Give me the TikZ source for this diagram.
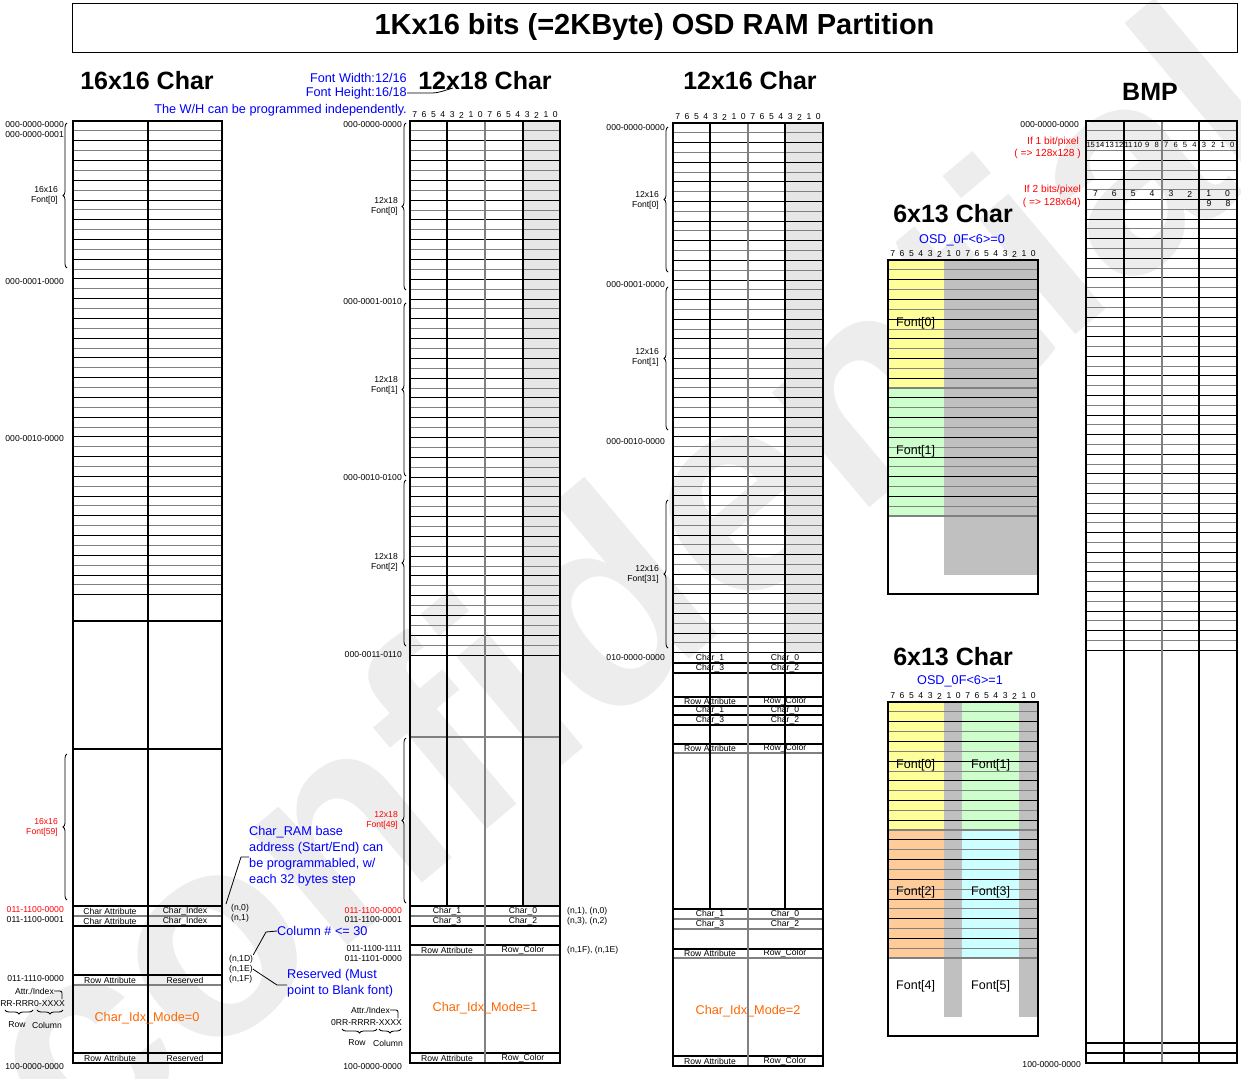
\documentclass[tikz,border=0pt]{standalone}
\usepackage{fontspec}
\setmainfont{Liberation Sans}
\usetikzlibrary{decorations.pathreplacing}

\definecolor{noteblue}{RGB}{0,0,255}
\definecolor{notered}{RGB}{255,0,0}
\definecolor{modeorange}{RGB}{255,102,0}
\definecolor{fontyellow}{RGB}{255,255,153}
\definecolor{fontgreen}{RGB}{204,255,204}
\definecolor{fontorange}{RGB}{255,204,153}
\definecolor{fontcyan}{RGB}{204,255,255}
\definecolor{unusedgray}{RGB}{192,192,192}
\definecolor{padgray}{RGB}{230,230,230}
\definecolor{linegray}{RGB}{128,128,128}

% row lines of a RAM table: left, right, top, pitch, count
\newcommand{\ramrows}[5]{%
  \foreach \k in {1,...,#5}{%
    \ifodd\k\relax \def\rowcol{linegray}\else \def\rowcol{black}\fi
    \draw[\rowcol, line width=0.9pt] (#1,{#3+\k*#4}) -- (#2,{#3+\k*#4});
  }}
% bit numbers 7..0 7..0 over a table: left, right, y, name prefix
\newcommand{\bitrow}[4]{%
  \foreach \i in {0,...,15}{%
    \pgfmathtruncatemacro\bitno{7-mod(\i,8)}%
    \node[bitlbl] (#4\i) at ({#1+(\i+0.5)*(#2-#1)/16},#3) {\bitno};
  }}

\begin{document}
\begin{tikzpicture}[x=1pt, y=-1pt,
  lbl/.style={font=\fontsize{8.6}{10}\selectfont, inner sep=0pt},
  redlbl/.style={lbl, text=notered},
  bitlbl/.style={font=\fontsize{8.6}{10}\selectfont, inner sep=0pt},
  heading/.style={font=\fontsize{25}{28}\bfseries\selectfont, inner sep=0pt},
  bluenote/.style={font=\fontsize{12.7}{16}\selectfont, text=noteblue, inner sep=0pt, align=left},
  rednote/.style={font=\fontsize{10.2}{12}\selectfont, text=notered, inner sep=0pt},
  modetxt/.style={font=\fontsize{12.7}{14}\selectfont, text=modeorange, inner sep=0pt},
  fonttxt/.style={font=\fontsize{12.5}{14}\selectfont, inner sep=0pt},
  border/.style={line width=1.6pt},
  divider/.style={line width=1.1pt},
  softdiv/.style={line width=1.1pt, linegray},
  fontbrace/.style={decorate, decoration={brace, amplitude=4pt}, line width=0.8pt},
  fieldbrace/.style={decorate, decoration={brace, mirror, amplitude=4pt}, line width=0.8pt},
  leader/.style={line width=0.8pt}]

\useasboundingbox (0,0) rectangle (1241,1078);
\fill[white] (0,0) rectangle (1241,1078);

% watermark
\node[rotate=40, text=black!7, font=\fontsize{285}{285}\bfseries\selectfont] (wmark) at (625,580) {confidential};

% title
\node[draw, line width=0.8pt, minimum width=1165, minimum height=49,
      font=\fontsize{29}{32}\bfseries\selectfont] (ttl) at (654.5,27.5) {1Kx16 bits (=2KByte) OSD RAM Partition};

%% 16x16 Char
\node[heading] (h1616) at (147,81) {16x16 Char};
\ramrows{73}{222}{121}{9.87}{48}
\draw[divider] (73,621) -- (222,621);
\draw[border] (73,749) -- (222,749);
\foreach \yy in {906,926,975,1053} \draw[divider] (73,\yy) -- (222,\yy);
\foreach \yy in {916,985} \draw[softdiv] (73,\yy) -- (222,\yy);
\draw[divider] (148,121) -- (148,1063);
\draw[border] (73,121) rectangle (222,1063);

\node[lbl] (ca1) at (110,911) {Char Attribute};
\node[lbl] (ci1) at (185,911) {Char\_Index};
\node[lbl] (ca2) at (110,921) {Char Attribute};
\node[lbl] (ci2) at (185,921) {Char\_Index};
\node[lbl] (ra1) at (110,980) {Row Attribute};
\node[lbl] (rs1) at (185,980) {Reserved};
\node[lbl] (ra2) at (110,1058) {Row Attribute};
\node[lbl] (rs2) at (185,1058) {Reserved};
\node[modetxt] (mode0) at (147,1018) {Char\_Idx\_Mode=0};

\node[lbl, anchor=east] (ad1) at (64,125) {000-0000-0000};
\node[lbl, anchor=east] (ad2) at (64,135) {000-0000-0001};
\node[lbl, anchor=east] (ad3) at (64,282) {000-0001-0000};
\node[lbl, anchor=east] (ad4) at (64,439) {000-0010-0000};
\node[redlbl, anchor=east] (ad5) at (64,910) {011-1100-0000};
\node[lbl, anchor=east] (ad6) at (64,920) {011-1100-0001};
\node[lbl, anchor=east] (ad7) at (64,979) {011-1110-0000};
\node[lbl, anchor=east] (ad8) at (64,1067) {100-0000-0000};

\draw[fontbrace] (67,268) -- (67,123);
\node[lbl, align=right, anchor=east] (fa0) at (58,195) {16x16\\Font[0]};
\draw[fontbrace] (67,900) -- (67,754);
\node[redlbl, align=right, anchor=east] (fa59) at (58,827) {16x16\\Font[59]};

\node[lbl, anchor=east] (attr1) at (54,991) {Attr./Index};
\coordinate (hook1) at (62,999);
\draw[leader, rounded corners=2pt] (attr1.east) -| (hook1);
\node[lbl, anchor=east] (fld1) at (65,1004) {0RR-RRR0-XXXX};
\draw[fieldbrace] (5,1010) -- (33,1010);
\draw[fieldbrace] (37,1010) -- (63,1010);
\node[lbl] (row1) at (17,1025) {Row};
\node[lbl] (col1) at (47,1025) {Column};

\node[lbl, anchor=west] (n0) at (231,908) {(n,0)};
\node[lbl, anchor=west] (n1) at (231,918) {(n,1)};
\node[lbl, anchor=west] (n1d) at (229,959) {(n,1D)};
\node[lbl, anchor=west] (n1e) at (229,969) {(n,1E)};
\node[lbl, anchor=west] (n1f) at (229,979) {(n,1F)};

\node[bluenote, anchor=north west] (ramnote) at (249,826) {Char\_RAM base\\address (Start/End) can\\be programmabled, w/\\each 32 bytes step};
\coordinate (ramfoot) at (226,904);
\coordinate (ramkink) at (241,857);
\draw[leader] (ramfoot) -- (ramkink) -- (ramkink -| ramnote.west);
\node[bluenote, anchor=west] (colnote) at (277,931) {Column \# <= 30};
\coordinate (colkink) at (266,932);
\draw[leader] (n1d.north east) -- (colkink) -- (colnote.west);
\node[bluenote, anchor=north west] (resnote) at (287,969) {Reserved (Must\\point to Blank font)};
\coordinate (reskink) at (277,985);
\draw[leader] (n1e.east) -- (reskink) -- (reskink -| resnote.west);

%% 12x18 Char
\node[heading] (h1218) at (485,81) {12x18 Char};
\node[bluenote, anchor=east] (fw) at (407,78) {Font Width:12/16};
\node[bluenote, anchor=east] (fh) at (407,93) {Font Height:16/18};
\node[bluenote, anchor=east] (wh) at (407,110) {The W/H can be programmed independently.};
\coordinate (fhend) at (453,88);
\draw[leader] (fh.east) -- ++(24,0) to[out=0, in=195] (fhend);

\fill[padgray] (523,121) rectangle (560,906);
\bitrow{410}{560}{115}{bt-}
\ramrows{410}{560}{121}{9.89}{54}
\draw[softdiv] (410,737) -- (560,737);
\foreach \yy in {906,926,945,1053} \draw[divider] (410,\yy) -- (560,\yy);
\foreach \yy in {916,955} \draw[softdiv] (410,\yy) -- (560,\yy);
\draw[divider] (447,121) -- (447,906);
\draw[divider] (523,121) -- (523,906);
\draw[softdiv] (485,121) -- (485,1063);
\draw[border] (410,121) rectangle (560,1063);

\node[lbl] (tc1) at (447,911) {Char\_1};
\node[lbl] (tc0) at (523,911) {Char\_0};
\node[lbl] (tc3) at (447,921) {Char\_3};
\node[lbl] (tc2) at (523,921) {Char\_2};
\node[lbl] (tra1) at (447,950) {Row Attribute};
\node[lbl] (trc1) at (523,950) {Row\_Color};
\node[lbl] (tra2) at (447,1058) {Row Attribute};
\node[lbl] (trc2) at (523,1058) {Row\_Color};
\node[modetxt] (mode1) at (485,1008) {Char\_Idx\_Mode=1};

\node[lbl, anchor=west] (tn10) at (567,911) {(n,1), (n,0)};
\node[lbl, anchor=west] (tn32) at (567,921) {(n,3), (n,2)};
\node[lbl, anchor=west] (tn1f) at (567,950) {(n,1F), (n,1E)};

\node[lbl, anchor=east] (tad1) at (402,125) {000-0000-0000};
\node[lbl, anchor=east] (tad2) at (402,302) {000-0001-0010};
\node[lbl, anchor=east] (tad3) at (402,478) {000-0010-0100};
\node[lbl, anchor=east] (tad4) at (402,655) {000-0011-0110};
\node[redlbl, anchor=east] (tad5) at (402,911) {011-1100-0000};
\node[lbl, anchor=east] (tad6) at (402,920) {011-1100-0001};
\node[lbl, anchor=east] (tad7) at (402,949) {011-1100-1111};
\node[lbl, anchor=east] (tad8) at (402,959) {011-1101-0000};
\node[lbl, anchor=east] (tad9) at (402,1067) {100-0000-0000};

\draw[fontbrace] (406,290) -- (406,123);
\node[lbl, align=right, anchor=east] (tf0) at (398,206) {12x18\\Font[0]};
\draw[fontbrace] (406,476) -- (406,303);
\node[lbl, align=right, anchor=east] (tf1) at (398,385) {12x18\\Font[1]};
\draw[fontbrace] (406,646) -- (406,480);
\node[lbl, align=right, anchor=east] (tf2) at (398,562) {12x18\\Font[2]};
\draw[fontbrace] (406,903) -- (406,738);
\node[redlbl, align=right, anchor=east] (tf49) at (398,820) {12x18\\Font[49]};

\node[lbl, anchor=east] (attr2) at (390,1010) {Attr./Index};
\coordinate (hook2) at (398,1018);
\draw[leader, rounded corners=2pt] (attr2.east) -| (hook2);
\node[lbl, anchor=east] (fld2) at (402,1023) {0RR-RRRR-XXXX};
\draw[fieldbrace] (342,1029) -- (377,1029);
\draw[fieldbrace] (379,1029) -- (401,1029);
\node[lbl] (row2) at (357,1043) {Row};
\node[lbl] (col2) at (388,1043) {Column};

%% 12x16 Char
\node[heading] (h1216) at (750,81) {12x16 Char};
\fill[padgray] (785,123) rectangle (823,653);
\bitrow{673}{823}{117}{bs-}
\ramrows{673}{823}{123}{9.81}{54}
\foreach \yy in {663,673,697,706,715,725,744,909,949,1056} \draw[divider] (673,\yy) -- (823,\yy);
\foreach \yy in {753,919,929,958} \draw[softdiv] (673,\yy) -- (823,\yy);

\foreach \yy/\nm in {658/a,710/b,914/c} {
  \node[lbl] (sc1\nm) at (710,\yy) {Char\_1};
  \node[lbl] (sc0\nm) at (785,\yy) {Char\_0};
  \node[lbl] (sc3\nm) at (710,\yy+10) {Char\_3};
  \node[lbl] (sc2\nm) at (785,\yy+10) {Char\_2};
}
\foreach \yy/\nm in {701/a,748/b,953/c,1061/d} {
  \node[lbl] (sra\nm) at (710,\yy) {Row Attribute};
  \node[lbl] (src\nm) at (785,\yy) {Row\_Color};
}
\node[modetxt] (mode2) at (748,1011) {Char\_Idx\_Mode=2};

\draw[divider] (710,123) -- (710,909);
\draw[divider] (785,123) -- (785,909);
\draw[softdiv] (748,123) -- (748,1066);
\draw[border] (673,123) rectangle (823,1066);

\node[lbl, anchor=east] (sad1) at (665,128) {000-0000-0000};
\node[lbl, anchor=east] (sad2) at (665,285) {000-0001-0000};
\node[lbl, anchor=east] (sad3) at (665,442) {000-0010-0000};
\node[lbl, anchor=east] (sad4) at (665,658) {010-0000-0000};

\draw[fontbrace] (668,272) -- (668,127);
\node[lbl, align=right, anchor=east] (sf0) at (659,200) {12x16\\Font[0]};
\draw[fontbrace] (668,430) -- (668,287);
\node[lbl, align=right, anchor=east] (sf1) at (659,357) {12x16\\Font[1]};
\draw[fontbrace] (668,648) -- (668,500);
\node[lbl, align=right, anchor=east] (sf31) at (659,574) {12x16\\Font[31]};

%% 6x13 Char, OSD_0F<6>=0
\node[heading] (h613a) at (953,214) {6x13 Char};
\node[bluenote] (osd0) at (962,240) {OSD\_0F<6>=0};
\bitrow{888}{1038}{254}{ba-}
\fill[fontyellow] (888,260) rectangle (944,388);
\fill[fontgreen] (888,388) rectangle (944,516);
\fill[unusedgray] (944,260) rectangle (1037,575);
\ramrows{888}{1038}{260}{9.85}{25}
\foreach \yy in {388,516} \draw[linegray, line width=1.6pt] (888,\yy) -- (1038,\yy);
\draw[border] (888,260) rectangle (1038,594);
\node[fonttxt, anchor=west] (pa0) at (896,323) {Font[0]};
\node[fonttxt, anchor=west] (pa1) at (896,451) {Font[1]};

%% 6x13 Char, OSD_0F<6>=1
\node[heading] (h613b) at (953,657) {6x13 Char};
\node[bluenote] (osd1) at (960,681) {OSD\_0F<6>=1};
\bitrow{888}{1038}{696}{bb-}
\fill[fontyellow] (888,702) rectangle (944,830);
\fill[fontgreen] (962,702) rectangle (1019,830);
\fill[fontorange] (888,830) rectangle (944,958);
\fill[fontcyan] (962,830) rectangle (1019,958);
\fill[unusedgray] (944,702) rectangle (962,1017);
\fill[unusedgray] (1019,702) rectangle (1038,1017);
\ramrows{888}{1038}{702}{9.85}{25}
\foreach \yy in {830,958} \draw[linegray, line width=1.6pt] (888,\yy) -- (1038,\yy);
\draw[border] (888,702) rectangle (1038,1036);
\node[fonttxt, anchor=west] (pb0) at (896,765) {Font[0]};
\node[fonttxt, anchor=west] (pb1) at (971,765) {Font[1]};
\node[fonttxt, anchor=west] (pb2) at (896,892) {Font[2]};
\node[fonttxt, anchor=west] (pb3) at (971,892) {Font[3]};
\node[fonttxt, anchor=west] (pb4) at (896,986) {Font[4]};
\node[fonttxt, anchor=west] (pb5) at (971,986) {Font[5]};

%% BMP
\node[heading] (hbmp) at (1150,92) {BMP};
\ramrows{1086}{1237}{121}{9.8}{54}
\foreach \yy in {1043,1053} \draw[divider] (1086,\yy) -- (1237,\yy);
\draw[divider] (1124,121) -- (1124,1063);
\draw[softdiv] (1162,121) -- (1162,1063);
\draw[divider] (1199,121) -- (1199,1063);
\draw[border] (1086,121) rectangle (1237,1063);

\foreach \i in {0,...,15} {
  \pgfmathtruncatemacro\bitno{15-\i}
  \node[font=\fontsize{7.6}{8}\selectfont, inner sep=0pt] (bm\i) at ({1086+(\i+0.5)*151/16},145) {\bitno};
}
\foreach \i in {0,...,7} {
  \pgfmathtruncatemacro\bitno{7-\i}
  \node[bitlbl] (bp\i) at ({1086+(\i+0.5)*151/8},194) {\bitno};
}
\node[bitlbl] (bp9) at (1209,204) {9};
\node[bitlbl] (bp8) at (1228,204) {8};

\node[lbl, anchor=east] (bad1) at (1079,125) {000-0000-0000};
\node[rednote, anchor=east] (onebit) at (1079,142) {If 1 bit/pixel};
\node[rednote, anchor=east] (onesz) at (1081,154) {( => 128x128 )};
\node[rednote, anchor=east] (twobit) at (1081,190) {If 2 bits/pixel};
\node[rednote, anchor=east] (twosz) at (1081,203) {( => 128x64)};
\node[lbl, anchor=east] (bad2) at (1081,1065) {100-0000-0000};

\end{tikzpicture}
\end{document}
